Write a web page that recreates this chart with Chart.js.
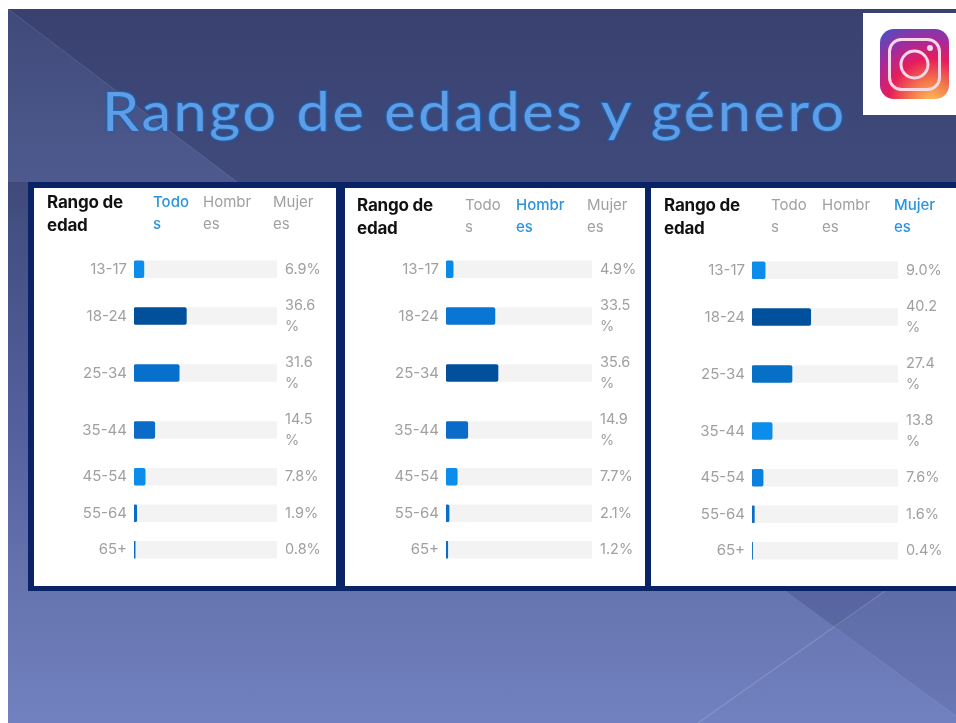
<!DOCTYPE html>
<html lang="es"><head><meta charset="utf-8"><title>Rango de edades y género</title>
<script src="https://cdn.jsdelivr.net/npm/chart.js@4"></script>
<style>
html,body{margin:0;padding:0;background:#fff;width:956px;height:723px;overflow:hidden}
#stage{position:absolute;left:0;top:0;width:956px;height:723px;overflow:hidden;filter:blur(.7px)}
#stage>*{position:absolute}
#title{left:102px;top:75px;font:400 54px/72px Lato,sans-serif;letter-spacing:2.4px;color:#5f9ee6;white-space:nowrap;
 transform:scaleX(1.1);transform-origin:0 50%;
 -webkit-text-stroke:2px #1f66b4;paint-order:stroke fill;text-shadow:0 0 3px #1c5ea8}
.panel{background:#fff;top:188px;height:398px}
.panel canvas{position:absolute;left:0;top:0}
.h{position:absolute;font:400 15px/22px Inter,sans-serif;color:#a0a0a0;white-space:pre}
.h.t{font:700 17px/23px Inter,sans-serif;color:#111;letter-spacing:-.2px}
.h.on{color:#2a94de;font-weight:500}
</style></head><body>
<div id="stage">
<svg width="956" height="723" style="left:0;top:0">
<defs><linearGradient id="bg" x1="0" y1="0" x2="0" y2="1">
<stop offset="0" stop-color="#394170"/><stop offset=".25" stop-color="#404b7c"/><stop offset=".6" stop-color="#55619f"/><stop offset=".85" stop-color="#6877b2"/><stop offset="1" stop-color="#7180c0"/></linearGradient>
<linearGradient id="tri" x1="0" y1="0" x2="0" y2="1"><stop offset="0" stop-color="#8090d0" stop-opacity=".1"/><stop offset="1" stop-color="#8090d0" stop-opacity=".22"/></linearGradient></defs>
<rect x="8" y="9" width="948" height="714" fill="url(#bg)"/>
<polygon points="8,9 237,182 8,182" fill="url(#tri)"/>
<line x1="8" y1="9" x2="237" y2="182" stroke="#a0b0e0" stroke-opacity=".2"/>
<polygon points="785,591 885,591 835,628" fill="#000a40" fill-opacity=".14"/>
<polygon points="885,591 956,591 956,716 835,628" fill="#000a40" fill-opacity=".07"/>
<line x1="785" y1="591" x2="956" y2="716" stroke="#fff" stroke-opacity=".1"/>
<line x1="885" y1="591" x2="698" y2="723" stroke="#fff" stroke-opacity=".14" stroke-width="1.5"/>
<rect x="863" y="13" width="93" height="102" fill="#fff"/>
<defs>
<radialGradient id="ig" cx=".75" cy="1.05" r="1.25">
<stop offset="0" stop-color="#fcc25a"/><stop offset=".25" stop-color="#f4774a"/><stop offset=".5" stop-color="#e61d5c"/><stop offset=".72" stop-color="#a52a9c"/><stop offset="1" stop-color="#4b4fc4"/></radialGradient></defs>
<rect x="880" y="29" width="69" height="70" rx="14" fill="url(#ig)"/>
<rect x="889.500" y="39.500" width="50" height="50" rx="12" fill="none" stroke="#f8d8e6" stroke-width="3"/>
<circle cx="914.500" cy="64.500" r="13.500" fill="none" stroke="#f8d8e6" stroke-width="3"/>
<circle cx="930" cy="48" r="3" fill="#f8d8e6"/>
<rect x="28" y="182" width="928" height="409" fill="#0a2266"/>
</svg>
<div id="title">Rango de edades y género</div>
<div class="panel" style="left:34px;width:302px"><canvas id="c0" width="302" height="398"></canvas></div>
<div class="panel" style="left:345px;width:300px"><canvas id="c1" width="300" height="398"></canvas></div>
<div class="panel" style="left:651px;width:305px"><canvas id="c2" width="305" height="398"></canvas></div>
</div>
<script>
const ageRanges = ['13-17','18-24','25-34','35-44','45-54','55-64','65+'];
const todos   = [6.9,36.6,31.6,14.5,7.8,1.9,0.8];
const hombres = [4.9,33.5,35.6,14.9,7.7,2.1,1.2];
const mujeres = [9.0,40.2,27.4,13.8,7.6,1.6,0.4];
const heading = 'Rango de\nedad';
const tabs = ['Todo\ns','Hombr\nes','Mujer\nes'];

const coloursTodos   = ['#0c8ceb','#00509c','#0670cc','#0a6cc8','#0c8ceb','#0a6cc8','#0a6cc8'];
const coloursHombres = ['#0a8ae8','#0a76d4','#00509c','#0a6cc8','#0c8ceb','#0a6cc8','#0a6cc8'];
const coloursMujeres = ['#0c8ceb','#00509c','#0670c6','#0c8ceb','#0a80e0','#0a6cc8','#0a6cc8'];

const panels = [
 {id:'c0',values:todos,  colours:coloursTodos,  active:0,axisW:100,trackW:143,headY:3,textX:13,tabX:[119,169,239],header:63},
 {id:'c1',values:hombres,colours:coloursHombres,active:1,axisW:101,trackW:146,headY:6,textX:12,tabX:[120,171,242],header:63},
 {id:'c2',values:mujeres,colours:coloursMujeres,active:2,axisW:101,trackW:146,headY:6,textX:13,tabX:[120,171,243],header:64}
];
const ROW1 = 36.5, ROW2 = 57;
const font = {family:'Inter, sans-serif',size:15};

const valueLabels = {
 id:'valueLabels',
 afterDatasetsDraw(chart){
  const {ctx,scales:{x,y}} = chart, vals = chart.data.datasets[1].data;
  ctx.save();
  ctx.font = '14.5px Inter, sans-serif'; ctx.fillStyle = '#a0a0a0';
  ctx.textAlign = 'left'; ctx.textBaseline = 'middle';
  const lx = x.getPixelForValue(100) + 8;
  vals.forEach(p=>{
    const py = y.getPixelForValue(p.y), t = p.x.toFixed(1);
    if (p.x >= 10){ ctx.fillText(t,lx,py-10); ctx.fillText('%',lx,py+11); }
    else ctx.fillText(t+'%',lx,py);
  });
  ctx.restore();
 }
};

panels.forEach(p=>{
  const canvas = document.getElementById(p.id), W = canvas.width, H = canvas.height;
  // rows that hold a wrapped percentage are taller
  let cur = p.header; const centres = p.values.map(v=>{
    const h = v >= 10 ? ROW2 : ROW1; const c = cur + h/2; cur += h; return c; });
  new Chart(canvas,{
    type:'bar',
    data:{datasets:[
      {data:centres.map(c=>({x:100,y:c})),backgroundColor:'#f3f3f3',barThickness:17,grouped:false,order:2},
      {data:centres.map((c,i)=>({x:p.values[i],y:c})),backgroundColor:p.colours,barThickness:17,borderRadius:2,borderSkipped:false,grouped:false,order:1}
    ]},
    options:{
      indexAxis:'y',responsive:false,animation:false,events:[],
      layout:{autoPadding:false,padding:{right:W-p.axisW-p.trackW,top:0,bottom:0,left:0}},
      plugins:{legend:{display:false},tooltip:{enabled:false},title:{display:false}},
      scales:{
        x:{type:'linear',min:0,max:100,display:false},
        y:{type:'linear',reverse:true,min:0,max:H,offset:false,
           grid:{display:false,drawTicks:false},border:{display:false},
           afterBuildTicks(s){s.ticks=centres.map(v=>({value:v}));},
           afterFit(s){s.width=p.axisW;s.paddingTop=0;s.paddingBottom=0;},
           ticks:{autoSkip:false,padding:7,color:'#a0a0a0',font,
             callback(v){return ageRanges[centres.indexOf(v)];}}}
      }
    },
    plugins:[valueLabels]
  });
  const host = canvas.parentNode;
  const add=(txt,x,cls)=>{const d=document.createElement('div');d.className='h '+cls;d.textContent=txt;
    d.style.left=x+'px';d.style.top=p.headY+'px';host.appendChild(d);};
  add(heading,p.textX,'t');
  tabs.forEach((t,i)=>add(t,p.tabX[i],i===p.active?'on':''));
});
</script>
</body></html>
